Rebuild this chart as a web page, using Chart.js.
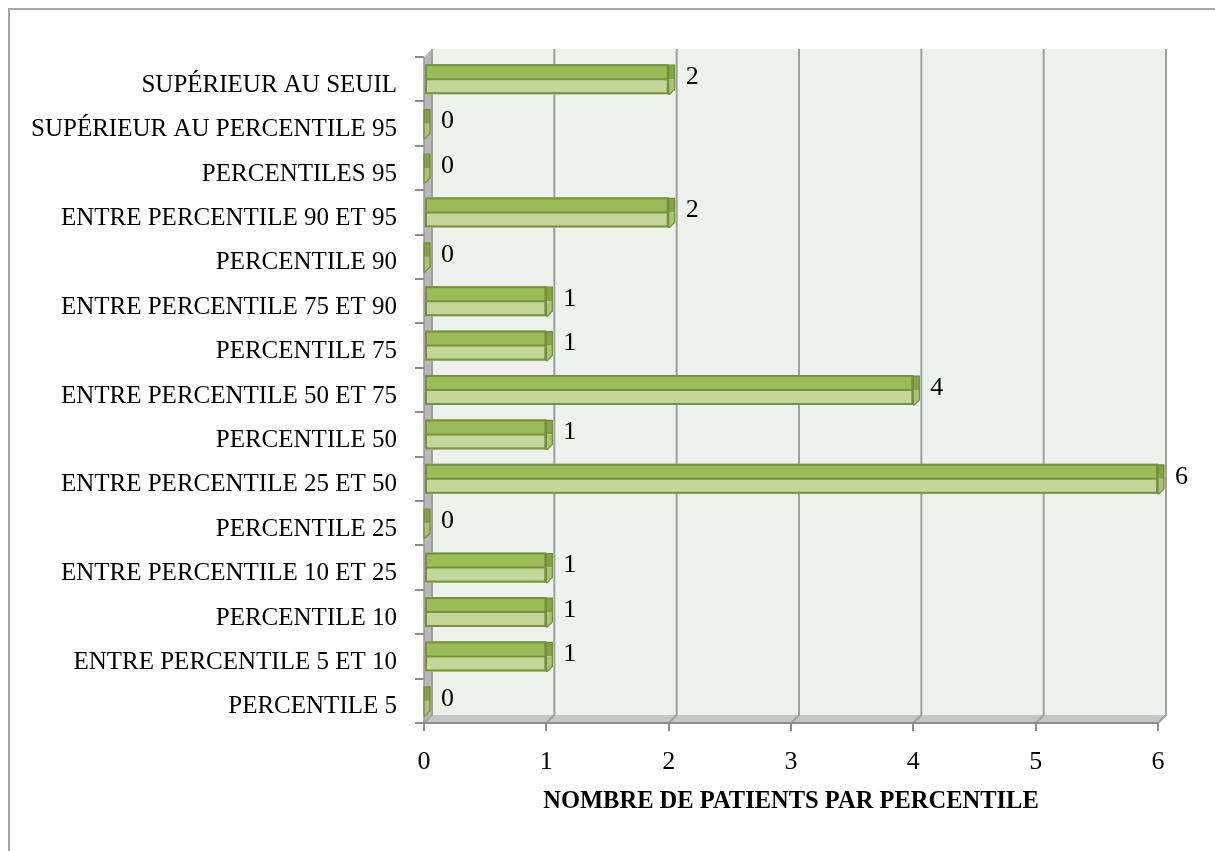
<!DOCTYPE html>
<html>
<head>
<meta charset="utf-8">
<script src="https://cdn.jsdelivr.net/npm/chart.js@4/dist/chart.umd.min.js"></script>
<style>
html,body{margin:0;padding:0;background:#fff;}
#wrap{width:1215px;height:851px;position:relative;}
</style>
</head>
<body>
<div id="wrap"><canvas id="c" width="1215" height="851"></canvas></div>
<script>
const categories = [
  "SUPÉRIEUR AU SEUIL",
  "SUPÉRIEUR AU PERCENTILE 95",
  "PERCENTILES 95",
  "ENTRE PERCENTILE 90 ET 95",
  "PERCENTILE 90",
  "ENTRE PERCENTILE 75 ET 90",
  "PERCENTILE 75",
  "ENTRE PERCENTILE 50 ET 75",
  "PERCENTILE 50",
  "ENTRE PERCENTILE 25 ET 50",
  "PERCENTILE 25",
  "ENTRE PERCENTILE 10 ET 25",
  "PERCENTILE 10",
  "ENTRE PERCENTILE 5 ET 10",
  "PERCENTILE 5"
];
const patients = [2, 0, 0, 2, 0, 1, 1, 4, 1, 6, 0, 1, 1, 1, 0];
const xTicks = [0, 1, 2, 3, 4, 5, 6];
const xTitle = "NOMBRE DE PATIENTS PAR PERCENTILE";

const FAMILY = "'Liberation Serif', 'Times New Roman', serif";
const DEPTH = 8;

const deco = {
  id: 'deco',
  beforeDraw(chart) {
    const {ctx, chartArea: a, scales: {x}} = chart;
    ctx.save();
    // outer frame
    ctx.strokeStyle = '#A6A6A6';
    ctx.lineWidth = 2;
    ctx.beginPath();
    ctx.moveTo(9, 851); ctx.lineTo(9, 9); ctx.lineTo(1215, 9);
    ctx.stroke();
    // back wall
    ctx.fillStyle = '#EEF2EF';
    ctx.fillRect(a.left + DEPTH, a.top - DEPTH, a.right - a.left, a.bottom - a.top);
    // left wall
    ctx.fillStyle = '#B8B8B8';
    ctx.beginPath();
    ctx.moveTo(a.left, a.top); ctx.lineTo(a.left + DEPTH, a.top - DEPTH);
    ctx.lineTo(a.left + DEPTH, a.bottom - DEPTH); ctx.lineTo(a.left, a.bottom);
    ctx.closePath(); ctx.fill();
    ctx.strokeStyle = '#9A9A9A'; ctx.lineWidth = 1.5;
    ctx.beginPath(); ctx.moveTo(a.left, a.top); ctx.lineTo(a.left, a.bottom); ctx.stroke();
    // floor
    ctx.fillStyle = '#C6C6C6';
    ctx.beginPath();
    ctx.moveTo(a.left, a.bottom); ctx.lineTo(a.left + DEPTH, a.bottom - DEPTH);
    ctx.lineTo(a.right + DEPTH, a.bottom - DEPTH); ctx.lineTo(a.right, a.bottom);
    ctx.closePath(); ctx.fill();
    // gridlines on the back wall
    ctx.strokeStyle = '#A0A0A0'; ctx.lineWidth = 2;
    xTicks.forEach(v => {
      const px = x.getPixelForValue(v);
      ctx.beginPath();
      ctx.moveTo(px + DEPTH, a.top - DEPTH);
      ctx.lineTo(px + DEPTH, a.bottom - DEPTH);
      ctx.lineTo(px, a.bottom);
      ctx.stroke();
    });
    ctx.restore();
  },
  afterDatasetsDraw(chart) {
    const {ctx} = chart;
    const meta = chart.getDatasetMeta(0);
    ctx.save();
    meta.data.forEach((el, i) => {
      const p = el.getProps(['x', 'y', 'base', 'height'], true);
      const top = p.y - p.height / 2;
      const bot = p.y + p.height / 2;
      const mid = p.y;
      const x0 = p.base, x1 = p.x;
      // light lower half
      ctx.fillStyle = '#C4D79B';
      ctx.fillRect(x0, mid, x1 - x0, bot - mid);
      // dark upper half
      ctx.fillStyle = '#9BBB59';
      ctx.fillRect(x0, top, x1 - x0, mid - top);
      ctx.strokeStyle = '#76923C'; ctx.lineWidth = 2;
      if (x1 - x0 > 1) {
        ctx.strokeRect(x0 + 1, top + 1, x1 - x0 - 2, bot - top - 2);
        ctx.beginPath(); ctx.moveTo(x0, mid); ctx.lineTo(x1, mid); ctx.stroke();
      }
      // end cap (3D depth)
      const cw = 6;
      ctx.fillStyle = '#83A346';
      ctx.beginPath();
      ctx.moveTo(x1, top + 1); ctx.lineTo(x1 + cw, top + 1);
      ctx.lineTo(x1 + cw, mid); ctx.lineTo(x1, mid); ctx.closePath(); ctx.fill();
      ctx.fillStyle = '#A9C47A';
      ctx.beginPath();
      ctx.moveTo(x1, mid); ctx.lineTo(x1 + cw, mid);
      ctx.lineTo(x1 + cw, bot - 5); ctx.lineTo(x1 + 1, bot); ctx.lineTo(x1, bot);
      ctx.closePath(); ctx.fill();
      ctx.strokeStyle = '#6F8E38'; ctx.lineWidth = 1.2;
      ctx.beginPath();
      ctx.moveTo(x1, top + 1); ctx.lineTo(x1 + cw, top + 1);
      ctx.lineTo(x1 + cw, bot - 5); ctx.lineTo(x1 + 1, bot); ctx.lineTo(x1, bot);
      ctx.closePath(); ctx.stroke();
      // data label
      ctx.fillStyle = '#000';
      ctx.font = '26px ' + FAMILY;
      ctx.textAlign = 'left';
      ctx.textBaseline = 'middle';
      ctx.fillText(String(patients[i]), x1 + 17, mid - 2);
    });
    ctx.restore();
  }
};

new Chart(document.getElementById('c'), {
  type: 'bar',
  data: {
    labels: categories,
    datasets: [{
      data: patients,
      backgroundColor: '#C4D79B',
      borderWidth: 0,
      barPercentage: 0.676,
      categoryPercentage: 1
    }]
  },
  options: {
    indexAxis: 'y',
    responsive: false,
    animation: false,
    devicePixelRatio: 1,
    layout: {padding: {top: 57, right: 57, bottom: 0, left: 0}},
    plugins: {legend: {display: false}, tooltip: {enabled: false}},
    scales: {
      x: {
        min: 0, max: 6,
        afterBuildTicks: s => { s.ticks = xTicks.map(v => ({value: v})); },
        afterFit: s => { s.height = 128; },
        grid: {display: true, drawOnChartArea: false, drawTicks: true, tickLength: 8, color: '#8C8C8C', lineWidth: 2},
        border: {display: true, color: '#8C8C8C', width: 2},
        ticks: {color: '#000', padding: 16, font: {family: FAMILY, size: 26}, maxRotation: 0},
        title: {display: true, text: xTitle, color: '#000', font: {family: FAMILY, size: 24.5, weight: 'bold'}, padding: {top: 0, bottom: 35}}
      },
      y: {
        afterFit: s => { s.width = 424; },
        grid: {display: true, drawOnChartArea: false, drawTicks: true, tickLength: 9, color: '#8C8C8C', lineWidth: 2, offset: true},
        border: {display: false},
        ticks: {color: '#000', padding: 18, labelOffset: 6, autoSkip: false, font: {family: FAMILY, size: 25}}
      }
    }
  },
  plugins: [deco]
});
</script>
</body>
</html>
